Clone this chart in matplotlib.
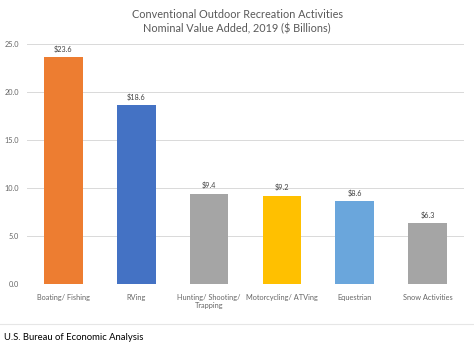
import matplotlib.pyplot as plt
import numpy as np

categories = ["Boating/ Fishing", "RVing", "Hunting/ Shooting/\nTrapping",
              "Motorcycling/ ATVing", "Equestrian", "Snow Activities"]
values = [23.6, 18.6, 9.4, 9.2, 8.6, 6.3]
colors = ["#ED7D31", "#4472C4", "#A5A5A5", "#FFC000", "#6AA6DC", "#A5A5A5"]
yticks = [0, 5, 10, 15, 20, 25]

plt.rcParams['font.family'] = ['Lato', 'DejaVu Sans']

fig = plt.figure(figsize=(4.74, 3.43), dpi=100)
ax = fig.add_axes([0.057, 0.172, 0.922, 0.700])

x = np.arange(len(categories))
ax.bar(x, values, width=0.53, color=colors, zorder=3)
for xi, v in zip(x, values):
    ax.text(xi, v + 0.45, "${:.1f}".format(v), ha="center", va="bottom",
            fontsize=5.2, color="#404040")

ax.set_xlim(-0.5, len(categories) - 0.5)
ax.set_ylim(0, 25)
ax.set_yticks(yticks)
ax.set_yticklabels(["{:.1f}".format(t) for t in yticks])
ax.set_xticks(x)
ax.set_xticklabels(categories)
ax.tick_params(axis="both", length=0, labelsize=5.3, colors="#666666")
ax.tick_params(axis="x", pad=7)
ax.tick_params(axis="y", pad=6)
ax.grid(axis="y", color="#D9D9D9", linewidth=0.7, zorder=0)
for s in ax.spines.values():
    s.set_visible(False)

fig.text(0.5, 1 - 21.5 / 343, "Conventional Outdoor Recreation Activities\nNominal Value Added, 2019 ($ Billions)",
         ha="center", va="center", fontsize=7.8, color="#595959", linespacing=1.3)

fig.add_artist(plt.Line2D([0, 1], [1 - 324 / 343] * 2, color="#E6E6E6", linewidth=0.8))
fig.text(0.008, 1 - 337 / 343, "U.S. Bureau of Economic Analysis", ha="left", va="center",
         fontsize=6.8, color="#000000")

fig.savefig("out.png", dpi=100)
